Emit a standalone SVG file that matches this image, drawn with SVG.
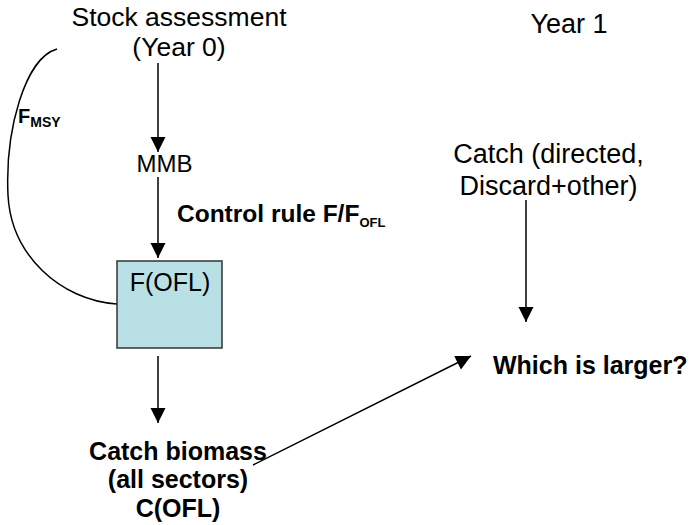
<svg xmlns="http://www.w3.org/2000/svg" width="691" height="525" viewBox="0 0 691 525">
<defs>
<style>
.t{font-family:"Liberation Sans",Arial,sans-serif;fill:#000;}
.n{font-size:27px;}
.b{font-weight:bold;font-size:25px;}
.c{stroke:#000;stroke-width:1.5;fill:none;}
.a{marker-end:url(#ah);}
</style>
<marker id="ah" markerUnits="userSpaceOnUse" markerWidth="16" markerHeight="16" refX="15" refY="7.5" orient="auto" overflow="visible">
<path d="M0,0 L15,7.5 L0,15 z" fill="#000"/>
</marker>
</defs>
<rect width="691" height="525" fill="#fff"/>
<g id="connectors">
<path class="c a" d="M158,63 V152"/>
<path class="c a" d="M158,177 V258"/>
<path class="c a" d="M158,356 V423"/>
<path class="c a" d="M526,200 V322"/>
<path class="c a" d="M253,465 L471,356"/>
<path class="c" d="M57,49 C25,58 5,130 8,195 C11,255 60,300 117,304"/>
</g>
<g id="stock-assessment">
<text class="t" font-size="26.5" x="179" y="26" text-anchor="middle">Stock assessment</text>
<text class="t" font-size="26.5" x="179" y="56" text-anchor="middle">(Year 0)</text>
</g>
<g id="fmsy">
<text class="t" font-weight="bold" x="18" y="123" font-size="20">F<tspan font-size="14" y="127">MSY</tspan></text>
</g>
<g id="mmb">
<text class="t" x="164.5" y="172" font-size="24" text-anchor="middle">MMB</text>
</g>
<g id="control-rule">
<text class="t" font-weight="bold" x="177" y="222" font-size="24.5">Control rule F/F<tspan font-size="13" y="227">OFL</tspan></text>
</g>
<g id="fofl">
<rect x="117" y="261" width="105" height="87" fill="#b9e0e4" stroke="#333" stroke-width="1.5"/>
<text class="t" x="170" y="291" font-size="25" text-anchor="middle">F(OFL)</text>
</g>
<g id="catch-biomass">
<text class="t b" x="178" y="460" text-anchor="middle">Catch biomass</text>
<text class="t b" x="178" y="488" text-anchor="middle">(all sectors)</text>
<text class="t b" x="178" y="517" text-anchor="middle">C(OFL)</text>
</g>
<g id="year1">
<text class="t n" x="569" y="33" text-anchor="middle">Year 1</text>
</g>
<g id="catch-directed">
<text class="t n" x="548.5" y="163" text-anchor="middle">Catch (directed,</text>
<text class="t n" x="548.5" y="195" text-anchor="middle">Discard+other)</text>
</g>
<g id="which-larger">
<text class="t b" x="493" y="374">Which is larger?</text>
</g>
</svg>
